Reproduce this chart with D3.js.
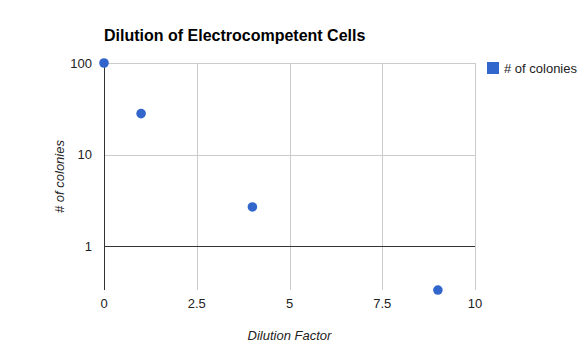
<!DOCTYPE html>
<html>
<head>
<meta charset="utf-8">
<script src="https://cdn.jsdelivr.net/npm/d3@7"></script>
<style>
  body { margin: 0; background: #fff; }
  text { font-family: "Liberation Sans", Arial, sans-serif; }
</style>
</head>
<body>
<script>
const dilution = [0, 1, 4, 9];
const colonies = [100, 28, 2.67, 0.33];
const xTicks = [0, 2.5, 5, 7.5, 10];
const yTicks = [1, 10, 100];
const seriesName = '# of colonies';

const width = 585,
      height = 351,
      plotLeft = 104,
      plotRight = 475,
      plotTop = 63;

const svg = d3.select('body').append('svg')
              .attr('width', width)
              .attr('height', height);

const xScale = d3.scaleLinear().domain([0, 10]).range([plotLeft, plotRight]);
// decade = ~91.5px, 100 at top
const yScale = d3.scaleLog().domain([1, 100]).range([246, plotTop]);
const plotBottom = yScale(d3.min(colonies));

// vertical gridlines
svg.append('g').selectAll('line')
   .data(xTicks.slice(1))
   .enter().append('line')
   .attr('x1', d => Math.round(xScale(d)) + 0.5).attr('x2', d => Math.round(xScale(d)) + 0.5)
   .attr('y1', plotTop).attr('y2', plotBottom)
   .attr('stroke', '#cccccc');

// horizontal gridlines
svg.append('g').selectAll('line')
   .data(yTicks)
   .enter().append('line')
   .attr('x1', plotLeft).attr('x2', plotRight)
   .attr('y1', d => Math.round(yScale(d)) + 0.5).attr('y2', d => Math.round(yScale(d)) + 0.5)
   .attr('stroke', d => d === 1 ? '#333333' : '#cccccc');

// left axis line
svg.append('line')
   .attr('x1', plotLeft + 0.5).attr('x2', plotLeft + 0.5)
   .attr('y1', plotTop).attr('y2', plotBottom)
   .attr('stroke', '#333333');

// tick labels
svg.append('g').selectAll('text')
   .data(yTicks)
   .enter().append('text')
   .attr('x', plotLeft - 12)
   .attr('y', d => yScale(d) + 4.5)
   .attr('text-anchor', 'end')
   .attr('font-size', 13)
   .attr('fill', '#222')
   .text(d => d);

svg.append('g').selectAll('text')
   .data(xTicks)
   .enter().append('text')
   .attr('x', d => xScale(d))
   .attr('y', 308)
   .attr('text-anchor', 'middle')
   .attr('font-size', 13)
   .attr('fill', '#222')
   .text(d => d);

// points
svg.append('g').selectAll('circle')
   .data(dilution)
   .enter().append('circle')
   .attr('cx', (d, i) => xScale(d))
   .attr('cy', (d, i) => yScale(colonies[i]))
   .attr('r', 4.8)
   .attr('fill', '#3366cc');

// title
svg.append('text')
   .attr('x', plotLeft)
   .attr('y', 41)
   .attr('font-size', 16)
   .attr('font-weight', 'bold')
   .attr('fill', '#000')
   .text('Dilution of Electrocompetent Cells');

// axis titles
svg.append('text')
   .attr('x', (plotLeft + plotRight) / 2)
   .attr('y', 340)
   .attr('text-anchor', 'middle')
   .attr('font-size', 13)
   .attr('font-style', 'italic')
   .attr('fill', '#222')
   .text('Dilution Factor');

svg.append('text')
   .attr('transform', 'translate(64,' + ((plotTop + plotBottom) / 2) + ') rotate(-90)')
   .attr('text-anchor', 'middle')
   .attr('font-size', 13)
   .attr('font-style', 'italic')
   .attr('fill', '#222')
   .text(seriesName);

// legend
svg.append('rect')
   .attr('x', 487).attr('y', 62)
   .attr('width', 12).attr('height', 12)
   .attr('fill', '#3366cc');

svg.append('text')
   .attr('x', 504)
   .attr('y', 73)
   .attr('font-size', 13)
   .attr('fill', '#222')
   .text(seriesName);
</script>
</body>
</html>
